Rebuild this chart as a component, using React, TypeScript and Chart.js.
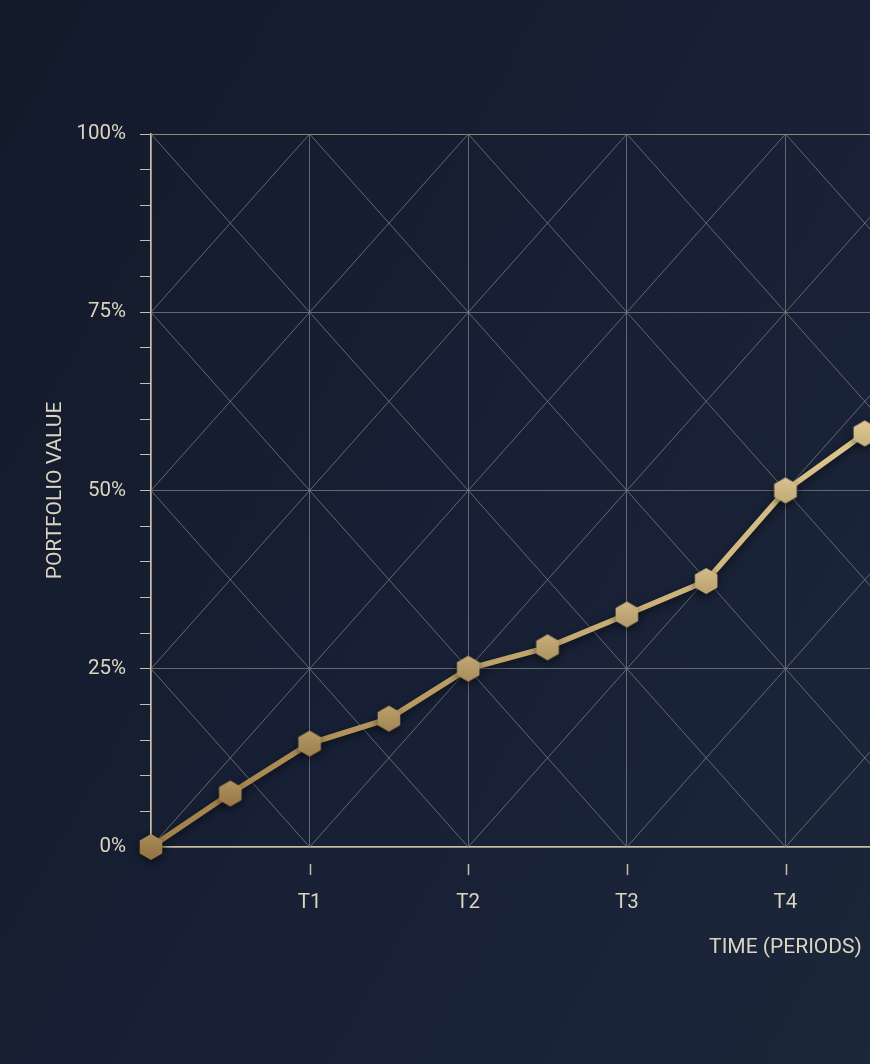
import React, { useEffect, useRef } from "react";
import Chart, { Plugin } from "chart.js/auto";

// periods shown on the x axis (only the visible ones are labelled)
const periodLabels = ["T1", "T2", "T3", "T4"];
// sample positions along the time axis, in periods
const periodPositions = [0, 0.5, 1, 1.5, 2, 2.5, 3, 3.5, 4, 4.5];
// portfolio value, percent
const portfolioValues = [0, 7.5, 14.5, 18, 25, 28, 32.6, 37.3, 50, 58];
const xMax = 8;
const yMajorStep = 25;
const yMinorStep = 5;

const GRID = "rgba(122,124,130,0.78)";
const AXIS = "#c8bea3";
const TEXT = "#dbd4c1";
const GOLD_DARK = [160, 127, 72];
const GOLD_LIGHT = [222, 198, 142];

function mix(t: number) {
  const c = GOLD_DARK.map((v, i) => Math.round(v + (GOLD_LIGHT[i] - v) * t));
  return `rgb(${c[0]},${c[1]},${c[2]})`;
}

function hexagon(color: string, r: number) {
  const c = document.createElement("canvas");
  const size = Math.ceil(r * 2 + 2);
  c.width = size;
  c.height = size;
  const g = c.getContext("2d")!;
  const cx = size / 2;
  const cy = size / 2;
  g.beginPath();
  for (let i = 0; i < 6; i++) {
    const a = -Math.PI / 2 + (i * Math.PI) / 3;
    const px = cx + r * Math.cos(a);
    const py = cy + r * Math.sin(a);
    if (i === 0) g.moveTo(px, py);
    else g.lineTo(px, py);
  }
  g.closePath();
  g.fillStyle = color;
  g.fill();
  const hl = g.createLinearGradient(0, 0, 0, size);
  hl.addColorStop(0, "rgba(255,240,200,0.15)");
  hl.addColorStop(1, "rgba(0,0,0,0.10)");
  g.fillStyle = hl;
  g.fill();
  return c;
}

// X-shaped diagonals inside every grid cell + detached x tick marks
const latticePlugin: Plugin<"line"> = {
  id: "lattice",
  beforeDatasetsDraw(chart) {
    const { ctx, chartArea, scales } = chart;
    const x = scales.x;
    const y = scales.y;
    const xs: number[] = [];
    for (let v = 0; v <= xMax; v++) xs.push(x.getPixelForValue(v));
    const ys: number[] = [];
    for (let v = 0; v <= 100; v += yMajorStep) ys.push(y.getPixelForValue(v));
    ctx.save();
    ctx.beginPath();
    ctx.rect(chartArea.left, chartArea.top, chartArea.width, chartArea.height);
    ctx.clip();
    ctx.strokeStyle = GRID;
    ctx.lineWidth = 1;
    ctx.beginPath();
    for (let i = 0; i < xs.length - 1; i++) {
      for (let j = 0; j < ys.length - 1; j++) {
        ctx.moveTo(xs[i], ys[j]);
        ctx.lineTo(xs[i + 1], ys[j + 1]);
        ctx.moveTo(xs[i + 1], ys[j]);
        ctx.lineTo(xs[i], ys[j + 1]);
      }
    }
    ctx.stroke();
    ctx.restore();

    ctx.save();
    ctx.strokeStyle = AXIS;
    ctx.lineWidth = 1.5;
    ctx.beginPath();
    for (let v = 1; v <= xMax; v++) {
      const px = Math.round(x.getPixelForValue(v)) + 0.5;
      ctx.moveTo(px, chartArea.bottom + 17);
      ctx.lineTo(px, chartArea.bottom + 28);
    }
    ctx.stroke();
    ctx.restore();
  },
  beforeDatasetDraw(chart) {
    const ctx = chart.ctx;
    ctx.save();
    ctx.shadowColor = "rgba(0,0,0,0.55)";
    ctx.shadowBlur = 8;
    ctx.shadowOffsetY = 3;
  },
  afterDatasetDraw(chart) {
    chart.ctx.restore();
  },
};

function PortfolioChart() {
  const canvasRef = useRef<HTMLCanvasElement>(null);
  const chartRef = useRef<Chart<"line"> | null>(null);

  useEffect(() => {
    const ctx = canvasRef.current?.getContext("2d");
    if (!ctx) return;

    const last = periodPositions[periodPositions.length - 1];
    const markers = periodPositions.map((p) => hexagon(mix(p / last), 13));

    chartRef.current = new Chart(ctx, {
      type: "line",
      data: {
        datasets: [
          {
            data: periodPositions.map((p, i) => ({ x: p, y: portfolioValues[i] })),
            borderColor: (c) => {
              const { chart } = c;
              const xs = chart.scales.x;
              if (!chart.chartArea || !xs) return mix(0.5);
              const x0 = xs.getPixelForValue(0);
              const x1 = xs.getPixelForValue(last);
              if (!isFinite(x0) || !isFinite(x1) || x1 <= x0) return mix(0.5);
              const g = chart.ctx.createLinearGradient(x0, 0, x1, 0);
              g.addColorStop(0, mix(0));
              g.addColorStop(1, mix(1));
              return g;
            },
            borderWidth: 5.5,
            tension: 0,
            pointStyle: markers,
            pointRadius: 13,
            clip: false,
          },
        ],
      },
      options: {
        animation: false,
        responsive: false,
        layout: { padding: { top: 134, left: 0, right: 17, bottom: 0 } },
        plugins: { legend: { display: false }, tooltip: { enabled: false } },
        scales: {
          x: {
            type: "linear",
            min: 0,
            max: xMax,
            afterFit: (s) => {
              s.height = 217;
            },
            ticks: {
              stepSize: 1,
              padding: 44,
              color: TEXT,
              font: { family: "Roboto", size: 20.5 },
              callback: (v) => {
                const n = Number(v);
                return n >= 1 ? periodLabels[n - 1] ?? "" : "";
              },
            },
            grid: { color: GRID, lineWidth: 1, drawTicks: false },
            border: { color: AXIS, width: 1.5 },
            title: {
              display: true,
              text: "TIME (PERIODS)",
              color: TEXT,
              font: { family: "Roboto", size: 21 },
              padding: { top: 0, bottom: 104 },
            },
          },
          y: {
            min: 0,
            max: 100,
            afterFit: (s) => {
              s.width = 151;
            },
            ticks: {
              stepSize: yMinorStep,
              autoSkip: false,
              padding: 14,
              color: TEXT,
              font: { family: "Roboto", size: 20.5 },
              callback: (v) => (Number(v) % yMajorStep === 0 ? `${v}%` : ""),
            },
            grid: {
              color: (c) =>
                c.tick && c.tick.value % yMajorStep === 0
                  ? c.tick.value === 100
                    ? "rgba(150,146,134,0.9)"
                    : GRID
                  : "rgba(0,0,0,0)",
              tickColor: AXIS,
              tickLength: 11,
              lineWidth: 1,
            },
            border: { color: AXIS, width: 1.5 },
            title: {
              display: true,
              text: "PORTFOLIO VALUE",
              color: TEXT,
              font: { family: "Roboto", size: 21 },
              padding: { top: 43, bottom: 0 },
            },
          },
        },
      },
      plugins: [latticePlugin],
    });

    return () => {
      if (chartRef.current) {
        chartRef.current.destroy();
        chartRef.current = null;
      }
    };
  }, []);

  return <canvas ref={canvasRef} width={1464} height={1064}></canvas>;
}

export default function App() {
  return (
    <div
      style={{
        position: "fixed",
        left: 0,
        top: 0,
        width: "100vw",
        height: "100vh",
        overflow: "hidden",
        background: "linear-gradient(120deg, #131a2a 0%, #172035 55%, #1c2639 100%)",
      }}
    >
      <PortfolioChart />
    </div>
  );
}
